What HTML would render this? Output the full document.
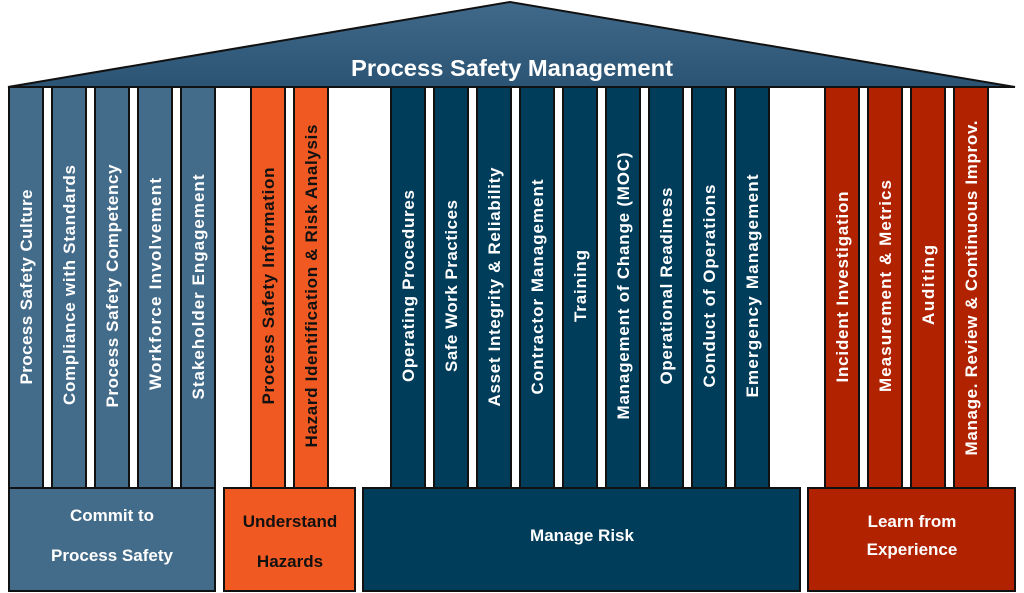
<!DOCTYPE html>
<html><head><meta charset="utf-8"><style>
html,body{margin:0;padding:0;background:#fff;width:1024px;height:593px;overflow:hidden}
text{font-family:"Liberation Sans",sans-serif}
</style></head><body>
<svg width="1024" height="593" viewBox="0 0 1024 593" xmlns="http://www.w3.org/2000/svg">
<defs>
<linearGradient id="rg" x1="0" y1="0" x2="0" y2="1">
<stop offset="0" stop-color="#40698a"/><stop offset="1" stop-color="#2b5373"/>
</linearGradient>
</defs>
<polygon points="8,87 510,2 1015,87" fill="url(#rg)" stroke="#111" stroke-width="2"/>
<text x="512" y="76" fill="#fff" font-size="23" font-weight="bold" text-anchor="middle" textLength="322" lengthAdjust="spacingAndGlyphs">Process Safety Management</text>
<g stroke="#111" stroke-width="2">
<g fill="#436b8a">
<rect x="9" y="87" width="34" height="401"/><rect x="52" y="87" width="34" height="401"/><rect x="95" y="87" width="34" height="401"/><rect x="138" y="87" width="34" height="401"/><rect x="181" y="87" width="34" height="401"/>
<rect x="9" y="488" width="206" height="103"/>
</g>
<g fill="#f05a22">
<rect x="251" y="87" width="34" height="401"/><rect x="294" y="87" width="34" height="401"/>
<rect x="224" y="488" width="131" height="103"/>
</g>
<g fill="#003d5a">
<rect x="391" y="87" width="34" height="401"/><rect x="434" y="87" width="34" height="401"/><rect x="477" y="87" width="34" height="401"/><rect x="520" y="87" width="34" height="401"/><rect x="563" y="87" width="34" height="401"/><rect x="606" y="87" width="34" height="401"/><rect x="649" y="87" width="34" height="401"/><rect x="692" y="87" width="34" height="401"/><rect x="735" y="87" width="34" height="401"/>
<rect x="363" y="488" width="437" height="103"/>
</g>
<g fill="#b02200">
<rect x="825" y="87" width="34" height="401"/><rect x="868" y="87" width="34" height="401"/><rect x="911" y="87" width="34" height="401"/><rect x="954" y="87" width="34" height="401"/>
<rect x="808" y="488" width="207" height="103"/>
</g>
</g>
<g font-size="17" font-weight="bold" fill="#fff" text-anchor="middle" lengthAdjust="spacingAndGlyphs">
<text transform="translate(32,287) rotate(-90)" textLength="195">Process Safety Culture</text>
<text transform="translate(75,285) rotate(-90)" textLength="240">Compliance with Standards</text>
<text transform="translate(118,286) rotate(-90)" textLength="243">Process Safety Competency</text>
<text transform="translate(161,284) rotate(-90)" textLength="212">Workforce Involvement</text>
<text transform="translate(204,287) rotate(-90)" textLength="225">Stakeholder Engagement</text>
<text transform="translate(274,286) rotate(-90)" textLength="237" fill="#111">Process Safety Information</text>
<text transform="translate(317,286) rotate(-90)" textLength="323" fill="#111">Hazard Identification &amp; Risk Analysis</text>
<text transform="translate(414,286) rotate(-90)" textLength="192">Operating Procedures</text>
<text transform="translate(457,286) rotate(-90)" textLength="172">Safe Work Practices</text>
<text transform="translate(500,287) rotate(-90)" textLength="239">Asset Integrity &amp; Reliability</text>
<text transform="translate(543,287) rotate(-90)" textLength="215">Contractor Management</text>
<text transform="translate(586,286) rotate(-90)" textLength="72">Training</text>
<text transform="translate(629,286) rotate(-90)" textLength="267">Management of Change (MOC)</text>
<text transform="translate(672,286) rotate(-90)" textLength="197">Operational Readiness</text>
<text transform="translate(715,286) rotate(-90)" textLength="203">Conduct of Operations</text>
<text transform="translate(758,286) rotate(-90)" textLength="223">Emergency Management</text>
<text transform="translate(848,287) rotate(-90)" textLength="191">Incident Investigation</text>
<text transform="translate(891,286) rotate(-90)" textLength="212">Measurement &amp; Metrics</text>
<text transform="translate(934,285) rotate(-90)" textLength="80">Auditing</text>
<text transform="translate(977,288) rotate(-90)" textLength="335">Manage. Review &amp; Continuous Improv.</text>
</g>
<g font-size="17" font-weight="bold" fill="#fff" text-anchor="middle">
<text x="112" y="521">Commit to</text>
<text x="112" y="561">Process Safety</text>
<text x="290" y="527" fill="#111">Understand</text>
<text x="290" y="567" fill="#111">Hazards</text>
<text x="582" y="541">Manage Risk</text>
<text x="912" y="527">Learn from</text>
<text x="912" y="555">Experience</text>
</g>
</svg>
</body></html>
